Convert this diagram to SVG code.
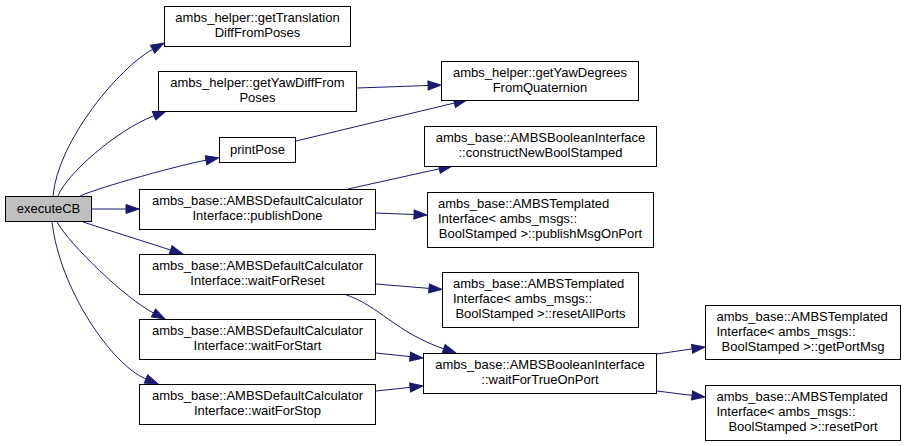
<svg xmlns="http://www.w3.org/2000/svg" width="907" height="446" viewBox="0 0 907 446">
<style>
.n rect{fill:#fff;stroke:#000;stroke-width:1}
.n text{font-family:"Liberation Sans",Arial,sans-serif;font-size:13px;fill:#000}
.c{text-anchor:middle}
.e path{fill:none;stroke:#191970;stroke-width:1;marker-end:url(#ah)}
</style>
<defs>
<marker id="ah" markerUnits="userSpaceOnUse" markerWidth="14" markerHeight="10" refX="0" refY="0" viewBox="0 -5 14 10" orient="auto" overflow="visible">
<polygon points="0,-4.5 13,0 0,4.5" fill="#191970" stroke="#191970" stroke-width="1"/>
</marker>
</defs>
<rect width="907" height="446" fill="#fff"/>
<g class="e" id="connectors">
<path d="M53,196 C58,140 120,67 152.6,49.3"/>
<path d="M58,196 C66,175 115,131 154,115.7"/>
<path d="M80,196 C100,187 180,165 206,160.2"/>
<path d="M92,209 L126,209"/>
<path d="M83,222 L170.6,250"/>
<path d="M57,222 C70,245 125,298 153.5,313"/>
<path d="M52,222 C60,290 112,365 146,379"/>
<path d="M357,88 L428,85.5"/>
<path d="M296,141 L454.4,103"/>
<path d="M348,189 L439.3,168.8"/>
<path d="M376,213 L414,214.5"/>
<path d="M376,284 L429,288.4"/>
<path d="M344,294 C380,306 395,332 443.7,348.8"/>
<path d="M376,353 L410.1,356.6"/>
<path d="M376,391 L410.1,387.4"/>
<path d="M657,354 L692.1,348.9"/>
<path d="M657,391 L692.1,395.4"/>
</g>
<g class="n" id="executeCB">
<rect x="5.5" y="196.5" width="86" height="25" style="fill:#bfbfbf"/>
<text class="c" x="48.5" y="213">executeCB</text>
</g>
<g class="n" id="getTranslationDiffFromPoses">
<rect x="164.5" y="6.5" width="186" height="40"/>
<text class="c" x="257.5" y="22">ambs_helper::getTranslation</text>
<text class="c" x="257.5" y="37">DiffFromPoses</text>
</g>
<g class="n" id="getYawDiffFromPoses">
<rect x="158.5" y="71.5" width="198" height="40"/>
<text class="c" x="257.5" y="87">ambs_helper::getYawDiffFrom</text>
<text class="c" x="257.5" y="102">Poses</text>
</g>
<g class="n" id="printPose">
<rect x="219.5" y="137.5" width="76" height="25"/>
<text class="c" x="257.5" y="154">printPose</text>
</g>
<g class="n" id="publishDone">
<rect x="139.5" y="189.5" width="236" height="40"/>
<text class="c" x="257.5" y="205">ambs_base::AMBSDefaultCalculator</text>
<text class="c" x="257.5" y="220">Interface::publishDone</text>
</g>
<g class="n" id="waitForReset">
<rect x="139.5" y="254.5" width="236" height="40"/>
<text class="c" x="257.5" y="270">ambs_base::AMBSDefaultCalculator</text>
<text class="c" x="257.5" y="285">Interface::waitForReset</text>
</g>
<g class="n" id="waitForStart">
<rect x="139.5" y="319.5" width="236" height="40"/>
<text class="c" x="257.5" y="335">ambs_base::AMBSDefaultCalculator</text>
<text class="c" x="257.5" y="350">Interface::waitForStart</text>
</g>
<g class="n" id="waitForStop">
<rect x="139.5" y="384.5" width="236" height="40"/>
<text class="c" x="257.5" y="400">ambs_base::AMBSDefaultCalculator</text>
<text class="c" x="257.5" y="415">Interface::waitForStop</text>
</g>
<g class="n" id="getYawDegreesFromQuaternion">
<rect x="441.5" y="61.5" width="197" height="39"/>
<text class="c" x="540" y="77">ambs_helper::getYawDegrees</text>
<text class="c" x="540" y="92">FromQuaternion</text>
</g>
<g class="n" id="constructNewBoolStamped">
<rect x="424.5" y="126.5" width="232" height="40"/>
<text class="c" x="540.5" y="142">ambs_base::AMBSBooleanInterface</text>
<text class="c" x="540.5" y="157">::constructNewBoolStamped</text>
</g>
<g class="n" id="publishMsgOnPort">
<rect x="427.5" y="192.5" width="226" height="55"/>
<text x="438" y="208">ambs_base::AMBSTemplated</text>
<text x="438" y="223">Interface&lt; ambs_msgs::</text>
<text class="c" x="540.5" y="238">BoolStamped &gt;::publishMsgOnPort</text>
</g>
<g class="n" id="resetAllPorts">
<rect x="442.5" y="272.5" width="196" height="55"/>
<text x="453" y="288">ambs_base::AMBSTemplated</text>
<text x="453" y="303">Interface&lt; ambs_msgs::</text>
<text class="c" x="540.5" y="318">BoolStamped &gt;::resetAllPorts</text>
</g>
<g class="n" id="waitForTrueOnPort">
<rect x="423.5" y="353.5" width="233" height="40"/>
<text class="c" x="540" y="369">ambs_base::AMBSBooleanInterface</text>
<text class="c" x="540" y="384">::waitForTrueOnPort</text>
</g>
<g class="n" id="getPortMsg">
<rect x="705.5" y="305.5" width="195" height="54"/>
<text x="716.5" y="321">ambs_base::AMBSTemplated</text>
<text x="716.5" y="336">Interface&lt; ambs_msgs::</text>
<text class="c" x="803" y="351">BoolStamped &gt;::getPortMsg</text>
</g>
<g class="n" id="resetPort">
<rect x="705.5" y="385.5" width="195" height="55"/>
<text x="716.5" y="401">ambs_base::AMBSTemplated</text>
<text x="716.5" y="416">Interface&lt; ambs_msgs::</text>
<text class="c" x="803" y="431">BoolStamped &gt;::resetPort</text>
</g>
</svg>
